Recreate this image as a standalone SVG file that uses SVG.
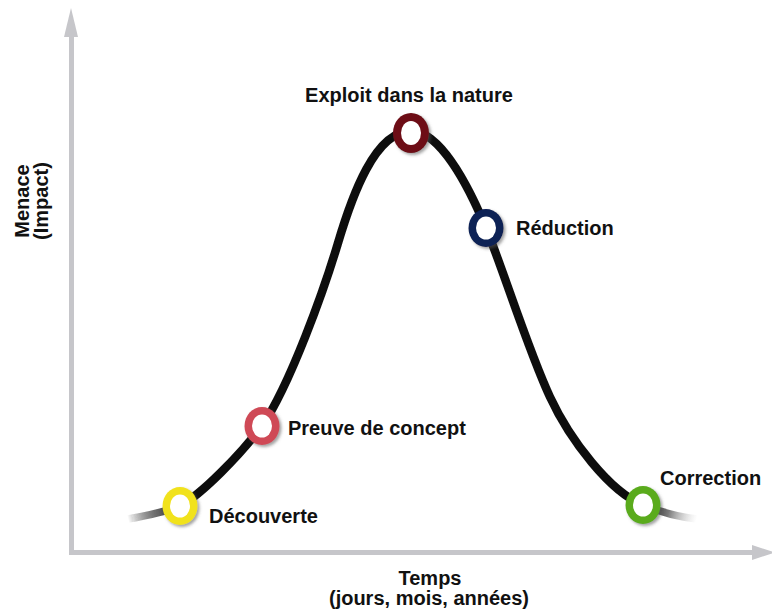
<svg xmlns="http://www.w3.org/2000/svg" width="772" height="613" viewBox="0 0 772 613">
  <defs>
    <style>
      .lbl { font-family: "Liberation Sans", Arial, Helvetica, sans-serif; font-weight: bold; font-size: 20px; fill: #111; }
      .axis { stroke: #c6c6ca; stroke-width: 5; fill: none; }
      .axis-head { fill: #c6c6ca; }
      .curve { fill: none; stroke: #111; stroke-width: 8.5; stroke-linecap: round; }
      .hole { fill: #fff; }
    </style>
    <filter id="shadow" x="-50%" y="-50%" width="200%" height="200%">
      <feDropShadow dx="2" dy="2" stdDeviation="1.6" flood-color="#555" flood-opacity="0.55"/>
    </filter>
    <filter id="soft" x="-10%" y="-10%" width="120%" height="120%">
      <feGaussianBlur stdDeviation="0.5"/>
    </filter>
    <linearGradient id="tailLeft" gradientUnits="userSpaceOnUse" x1="128" y1="519" x2="178" y2="507">
      <stop offset="0" stop-color="#111" stop-opacity="0"/>
      <stop offset="0.6" stop-color="#666"/>
      <stop offset="1" stop-color="#111"/>
    </linearGradient>
    <linearGradient id="tailRight" gradientUnits="userSpaceOnUse" x1="645" y1="506" x2="697" y2="519">
      <stop offset="0" stop-color="#111"/>
      <stop offset="0.45" stop-color="#777"/>
      <stop offset="1" stop-color="#ccc" stop-opacity="0"/>
    </linearGradient>
  </defs>

  <rect width="772" height="613" fill="#fff"/>

  <!-- axes -->
  <g id="axes">
    <path class="axis" d="M71.5,36 V552.5 H753"/>
    <polygon class="axis-head" points="64,37 78,37 71,8"/>
    <polygon class="axis-head" points="752,545 752,560 775,552.5"/>
  </g>

  <!-- threat curve -->
  <g id="connectors" filter="url(#soft)">
    <path d="M128,519 C145,516 165,512 180,506" fill="none" stroke="url(#tailLeft)" stroke-width="7.5" stroke-linecap="round"/>
    <path class="curve" d="M180,506 C202,494 240,455 262,426 C290,385 324,290 338,243 C352,196 375,131 411,131 C440,131 468,185 486,228 C502,266 528,350 550,397 C570,440 610,492 643,505"/>
    <path d="M643,505 C660,512 680,517 697,519" fill="none" stroke="url(#tailRight)" stroke-width="7.5" stroke-linecap="round"/>
  </g>

  <!-- milestones -->
  <g id="decouverte">
    <ellipse cx="180" cy="506" rx="17.5" ry="19" fill="#f1e21c" filter="url(#shadow)"/>
    <ellipse class="hole" cx="180" cy="506" rx="10" ry="11.5"/>
    <text class="lbl" x="209" y="523">Découverte</text>
  </g>

  <g id="preuve">
    <ellipse cx="262" cy="426" rx="17.5" ry="19" fill="#cf4a57" filter="url(#shadow)"/>
    <ellipse class="hole" cx="262" cy="426" rx="10" ry="11.5"/>
    <text class="lbl" x="288" y="435">Preuve de concept</text>
  </g>

  <g id="exploit">
    <ellipse cx="411" cy="133" rx="18" ry="20" fill="#6d1019" filter="url(#shadow)"/>
    <ellipse class="hole" cx="411" cy="133" rx="10" ry="12"/>
    <text class="lbl" x="409" y="102" text-anchor="middle">Exploit dans la nature</text>
  </g>

  <g id="reduction">
    <ellipse cx="486" cy="228" rx="17.5" ry="19" fill="#0c2055" filter="url(#shadow)"/>
    <ellipse class="hole" cx="486" cy="228" rx="10" ry="11.5"/>
    <text class="lbl" x="516" y="235">Réduction</text>
  </g>

  <g id="correction">
    <ellipse cx="643" cy="505" rx="17.5" ry="19" fill="#5aab1e" filter="url(#shadow)"/>
    <ellipse class="hole" cx="643" cy="505" rx="10" ry="11.5"/>
    <text class="lbl" x="660" y="485">Correction</text>
  </g>

  <!-- axis titles -->
  <g id="axis-titles">
    <text class="lbl" x="430" y="585" text-anchor="middle">Temps</text>
    <text class="lbl" x="429" y="605" text-anchor="middle">(jours, mois, années)</text>
    <text class="lbl" transform="translate(28.5,201) rotate(-90)" text-anchor="middle">Menace</text>
    <text class="lbl" transform="translate(48,201) rotate(-90)" text-anchor="middle">(Impact)</text>
  </g>
</svg>
